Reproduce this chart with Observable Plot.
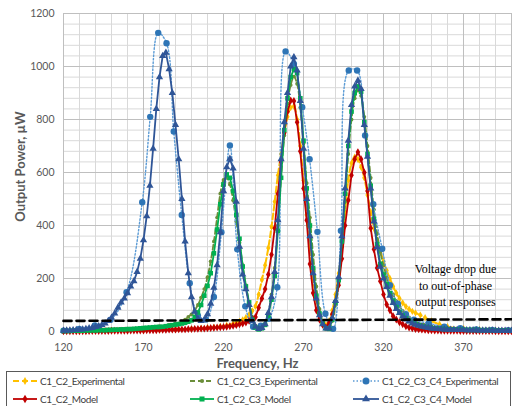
<!DOCTYPE html>
<html><head><meta charset="utf-8">
<script src="https://cdn.jsdelivr.net/npm/d3@7"></script>
<script src="https://cdn.jsdelivr.net/npm/@observablehq/plot@0.6"></script>
<style>
body{margin:0;background:#fff;width:512px;height:406px;overflow:hidden;position:relative;font-family:Lato,"Open Sans",sans-serif;}
#chart{position:absolute;left:0;top:0;}
#legend{position:absolute;left:6px;top:371px;width:505px;height:40px;border:1px solid #595959;box-sizing:border-box;background:#fff;}
.item{position:absolute;display:flex;align-items:center;font-family:Lato,"Open Sans",sans-serif;font-size:10px;letter-spacing:-0.4px;color:#404040;white-space:nowrap;height:14px;}
.item svg{margin-right:3px;overflow:visible}
</style></head><body>
<div id="chart"></div>
<div id="legend"></div>
<script>
// ---- axis ticks ----
const xTicks = [120, 170, 220, 270, 320, 370];
const yTicks = [0, 200, 400, 600, 800, 1000, 1200];

// ---- model series: common frequency grid (Hz) ----
const modelHz = [
 120,122,124,126,128,130,132,134,136,138,
 140,142,144,146,148,150,152,154,156,158,
 160,162,164,166,168,170,172,174,176,178,
 180,182,184,186,188,190,192,194,196,198,
 200,202,204,206,208,210,212,214,216,218,
 220,222,224,226,228,230,232,234,236,238,
 240,242,244,246,248,250,252,254,256,258,
 260,262,264,266,268,270,272,274,276,278,
 280,282,284,286,288,290,292,294,296,298,
 300,302,304,306,308,310,312,314,316,318,
 320,322,324,326,328,330,332,334,336,338,
 340,342,344,346,348,350,352,354,356,358,
 360,362,364,366,368,370,372,374,376,378,
 380,382,384,386,388,390,392,394,396,398,
 400];

const c2Model = [
 1,1,1,1,1,1,1,1,2,2,
 2,2,2,2,2,3,3,3,3,3,
 3,4,4,4,4,4,5,5,5,5,
 6,6,6,7,7,7,8,8,8,9,
 9,10,10,11,11,12,13,14,15,16,
 17,18,20,22,24,27,30,34,40,47,
 55,90,125,160,215,290,390,520,640,750,
 830,872,870,790,680,540,420,255,145,80,
 45,25,16,32,65,110,175,275,400,495,
 590,650,677,650,600,530,390,310,240,190,
 140,102,80,58,45,35,27,20,15,12,
 9,8,7,6,5,5,4,4,3,3,
 3,3,3,3,2,2,2,2,2,2,
 2,2,2,2,2,1,1,1,1,1,
 1];

const c3Model = [
 2,2,2,3,3,3,3,4,4,4,
 4,5,5,5,6,6,7,7,8,8,
 9,9,10,11,12,13,14,15,16,17,
 17,18,20,22,24,26,28,30,33,37,
 42,55,72,100,135,172,220,295,385,480,
 555,593,580,530,440,350,245,170,110,45,
 15,8,12,25,60,120,210,380,580,760,
 880,960,990,975,880,720,540,400,240,135,
 68,30,12,10,45,110,195,340,520,700,
 830,900,925,905,790,670,550,425,330,255,
 215,178,145,117,92,74,60,49,40,33,
 28,24,20,17,15,13,12,11,10,9,
 9,8,8,7,7,7,6,6,6,6,
 5,5,5,5,5,4,4,4,4,4,
 4];

const c4Model = [
 3,4,4,5,6,7,8,10,12,14,
 17,20,25,31,40,52,68,90,110,125,
 145,170,190,225,275,345,435,550,690,840,
 960,1040,1052,990,900,780,650,500,340,220,
 130,75,48,40,45,65,105,165,250,375,
 530,620,652,615,490,320,215,160,100,40,
 18,10,14,28,70,130,225,420,650,790,
 900,1000,1035,985,870,690,500,360,220,125,
 62,28,12,12,50,115,205,360,540,720,
 855,925,947,915,780,660,540,415,318,245,
 200,168,135,108,85,70,57,46,38,31,
 26,22,19,16,14,12,11,10,9,8,
 8,7,7,6,6,6,5,5,5,5,
 4,4,4,4,4,3,3,3,3,3,
 3];

// ---- experimental series ----
const c2ExpHz = [120,130,140,150,160,170,180,190,200,206,210,214,218,222,226,228,230,232,234,236,238,240,242,244,246,248,250,252,254,256,258,260,262,264,266,268,270,272,274,276,278,280,282,284,286,288,290,292,294,296,298,300,302,304,306,308,310,312,314,316,318,320,322,324,326,328,330,332,334,336,338,340,343,346,350,355,360,370,380,390,400];
const c2Exp = [2,2,3,3,4,5,6,8,10,12,14,16,19,23,29,33,38,44,52,64,78,96,140,195,250,315,395,490,590,670,750,810,845,850,800,700,570,440,320,200,120,65,35,25,40,80,140,220,320,450,570,635,658,650,620,580,515,450,390,345,305,265,230,200,170,145,125,108,94,84,76,70,62,52,40,27,18,11,7,5,4];

const c3ExpHz = [120,130,140,150,160,170,180,186,190,194,196,198,200,202,204,206,208,210,212,214,216,218,220,222,224,226,228,230,232,234,236,238,240,242,244,246,248,250,252,254,256,258,260,262,264,266,268,270,272,274,276,278,280,282,284,286,288,290,292,294,296,298,300,302,304,306,308,310,312,314,316,318,320,322,324,326,328,330,332,334,336,338,340,345,350,355,360,370,380,390,400];
const c3Exp = [3,4,6,8,11,15,20,25,30,38,45,55,65,80,100,128,160,205,265,340,430,520,572,580,555,495,415,335,250,175,110,55,22,12,15,30,70,140,240,400,580,740,860,930,962,935,845,710,560,430,290,170,85,38,15,12,40,100,185,320,490,670,800,880,910,890,810,700,580,460,370,300,250,205,170,140,115,95,78,64,53,44,37,26,19,15,12,9,7,6,5];

const c4ExpHz = [120,129.8,139.6,149.4,159.4,169.2,174.2,179.2,184.4,188.9,193.9,198.9,204,209,214,218.7,224,228.6,233.6,238.5,243.3,248.4,253.6,258.8,264,269.2,273.8,278.7,283.7,288.5,293.4,298.3,303.5,308.5,313.6,319.2,324,329,334,339,348.3,358,368,378,388,398];
const c4Exp = [3,10,23,44,148,488,810,1127,1088,755,440,182,60,45,130,375,702,310,95,18,22,48,167,1057,1010,846,650,376,67,10,380,985,985,740,480,312,175,105,65,45,31,18,12,8,6,5];

// ---- threshold line & annotation ----
const dropHz = [120, 400];
const dropVal = [40, 46];
const noteText = "Voltage drop due\nto out-of-phase\noutput responses";
const noteHz = [365];
const noteVal = [178];

const seriesNames = ["C1_C2_Experimental","C1_C2_C3_Experimental","C1_C2_C3_C4_Experimental","C1_C2_Model","C1_C2_C3_Model","C1_C2_C3_C4_Model"];

const styles = [
  {line:"#FFC000", marker:"#FFC000", w:2, dash:"6,3", symbol:"diamond", r:2.2, curve:"catmull-rom"},
  {line:"#6B8E3A", marker:"#6B8E3A", w:1.8, dash:"5,3", symbol:"circle", r:1.9, curve:"catmull-rom"},
  {line:"#5B9BD5", marker:"#2E75B6", w:1.4, dash:"1.5,2", symbol:"circle", r:3.2, curve:"catmull-rom"},
  {line:"#C00000", marker:"#C00000", w:1.8, dash:null, symbol:"diamond", r:2.4, curve:"linear"},
  {line:"#00B050", marker:"#00B050", w:1.8, dash:null, symbol:"square", r:2.6, curve:"linear"},
  {line:"#2F5597", marker:"#2F5597", w:1.8, dash:null, symbol:"triangle", r:2.7, curve:"linear"}
];

const seriesData = [
  [c2ExpHz, c2Exp], [c3ExpHz, c3Exp], [c4ExpHz, c4Exp],
  [modelHz, c2Model], [modelHz, c3Model], [modelHz, c4Model]
];

function seriesMarks(k) {
  const [xs, ys] = seriesData[k];
  const s = styles[k];
  const data = xs.map((x, i) => ({x, y: ys[i]}));
  const lineOpts = {x: "x", y: "y", stroke: s.line, strokeWidth: s.w, curve: s.curve};
  if (s.dash) lineOpts.strokeDasharray = s.dash;
  return [
    Plot.line(data, lineOpts),
    Plot.dot(data, {x: "x", y: "y", symbol: s.symbol, r: s.r, fill: s.marker, stroke: "none"})
  ];
}

const minorX = d3.range(120, 401, 10);
const minorY = d3.range(0, 1201, 40);

const chart = Plot.plot({
  width: 512, height: 370,
  marginLeft: 63, marginRight: 1, marginTop: 13, marginBottom: 39,
  style: {fontFamily: "Lato, 'Open Sans', sans-serif", fontSize: "10.5px", color: "#595959", background: "white", overflow: "visible"},
  x: {domain: [120, 400], ticks: xTicks, label: null, tickSize: 0, tickPadding: 12, tickFormat: d => String(d)},
  y: {domain: [0, 1200], ticks: yTicks, label: null, tickSize: 0, tickPadding: 9, tickFormat: d => String(d)},
  marks: [
    Plot.ruleX(minorX, {stroke: "#D9D9D9", strokeWidth: 1}),
    Plot.ruleY(minorY, {stroke: "#D9D9D9", strokeWidth: 1}),
    Plot.ruleX(xTicks, {stroke: "#BFBFBF", strokeWidth: 1}),
    Plot.ruleY(yTicks, {stroke: "#BFBFBF", strokeWidth: 1}),
    Plot.ruleX([400], {stroke: "#BFBFBF"}),
    ...seriesMarks(0), ...seriesMarks(1), ...seriesMarks(2),
    ...seriesMarks(3), ...seriesMarks(4), ...seriesMarks(5),
    Plot.line(dropHz.map((x, i) => ({x, y: dropVal[i]})), {x: "x", y: "y", stroke: "black", strokeWidth: 2.6, strokeDasharray: "8,5"}),
    Plot.text([noteText], {x: noteHz, y: noteVal, text: d => d, fontFamily: "'Liberation Serif', 'Times New Roman', serif", fontSize: 12, fill: "black", lineHeight: 1.38, lineAnchor: "middle"}),
    Plot.text(["Frequency, Hz"], {frameAnchor: "bottom", dx: -30, dy: 36, textAnchor: "middle", fontWeight: "bold", fontSize: 13, fill: "#595959"}),
    Plot.text(["Output Power, µW"], {frameAnchor: "left", dx: -43, dy: -6, textAnchor: "middle", rotate: -90, fontWeight: "bold", fontSize: 13, fill: "#595959"})
  ]
});
document.getElementById("chart").appendChild(chart);

// ---- legend ----
const legend = document.getElementById("legend");
const legendPos = [[6, 2], [183, 2], [346, 2], [6, 20], [183, 20], [346, 20]];
seriesNames.forEach((name, k) => {
  const s = styles[k];
  const div = document.createElement("div");
  div.className = "item";
  div.style.left = legendPos[k][0] + "px";
  div.style.top = legendPos[k][1] + "px";
  const w = k % 3 === 2 ? 26 : 24;
  const ns = "http://www.w3.org/2000/svg";
  const svg = document.createElementNS(ns, "svg");
  svg.setAttribute("width", w); svg.setAttribute("height", 12);
  const ln = document.createElementNS(ns, "line");
  ln.setAttribute("x1", 0); ln.setAttribute("x2", w); ln.setAttribute("y1", 6); ln.setAttribute("y2", 6);
  ln.setAttribute("stroke", s.line); ln.setAttribute("stroke-width", s.w);
  if (s.dash) ln.setAttribute("stroke-dasharray", s.dash);
  svg.appendChild(ln);
  const sym = {circle: d3.symbolCircle, diamond: d3.symbolDiamond, square: d3.symbolSquare, triangle: d3.symbolTriangle}[s.symbol];
  const p = document.createElementNS(ns, "path");
  p.setAttribute("d", d3.symbol(sym, Math.PI * s.r * s.r * 1.2)());
  p.setAttribute("transform", `translate(${w / 2},6)`);
  p.setAttribute("fill", s.marker);
  svg.appendChild(p);
  div.appendChild(svg);
  const span = document.createElement("span");
  span.textContent = name;
  div.appendChild(span);
  legend.appendChild(div);
});
</script>
</body></html>
